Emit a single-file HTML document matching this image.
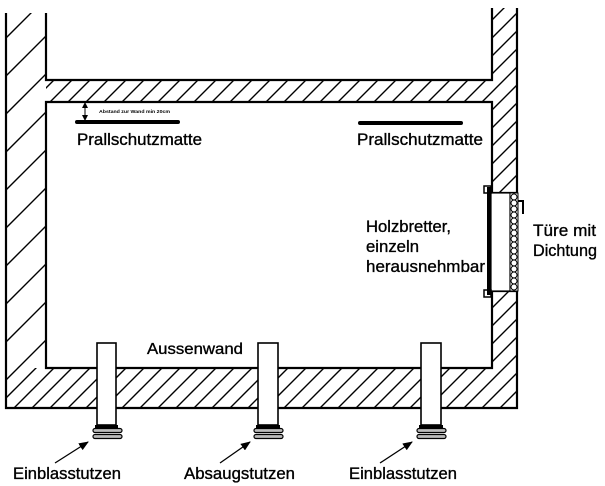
<!DOCTYPE html>
<html>
<head>
<meta charset="utf-8">
<style>
html,body{margin:0;padding:0;background:#fff;}
svg{display:block;}
text{font-family:"Liberation Sans",Arial,sans-serif;fill:#000;}
.lb{stroke:#000;stroke-width:0.35;}
</style>
</head>
<body>
<svg width="605" height="486" viewBox="0 0 605 486" xmlns="http://www.w3.org/2000/svg">
<defs>
  <pattern id="hL" patternUnits="userSpaceOnUse" width="38" height="38" x="6" y="0">
    <path d="M0,38 L38,0 M-2,2 L2,-2 M36,40 L40,36" stroke="#000" stroke-width="1.4"/>
  </pattern>
  <pattern id="hS" patternUnits="userSpaceOnUse" width="18" height="18" x="8" y="0">
    <path d="M0,18 L18,0 M-2,2 L2,-2 M16,20 L20,16" stroke="#000" stroke-width="1.4"/>
  </pattern>
  <marker id="ah" markerWidth="10" markerHeight="8" refX="9" refY="4" orient="auto" markerUnits="userSpaceOnUse">
    <path d="M0,0 L10,4 L0,8 z" fill="#000"/>
  </marker>
</defs>

<!-- hatched walls -->
<rect x="6" y="13" width="40" height="355" fill="url(#hL)"/>
<rect x="46" y="80" width="446" height="22" fill="url(#hS)"/>
<rect x="492" y="8" width="25" height="185" fill="url(#hS)"/>
<rect x="492" y="291" width="25" height="77" fill="url(#hS)"/>
<rect x="6" y="368" width="511" height="40" fill="url(#hS)"/>

<!-- wall outlines -->
<g fill="none" stroke="#000" stroke-width="2.2">
  <path d="M6,13 V408 H517 V291"/>
  <path d="M517,193 V8"/>
  <path d="M46,13 V80 H492 V8"/>
  <path d="M492,193 V102 H46 V368 H492 V291"/>
  <path d="M491,193 H517 M491,291 H517"/>
</g>

<!-- door -->
<rect x="491" y="193" width="19" height="98" fill="#fff" stroke="#000" stroke-width="1.2"/>
<rect x="487" y="187" width="4" height="108" fill="#000"/>
<rect x="484" y="186" width="7" height="7" fill="none" stroke="#000" stroke-width="1.5"/>
<rect x="484" y="290" width="7" height="7" fill="none" stroke="#000" stroke-width="1.5"/>
<rect x="510" y="193" width="8" height="98" fill="#fff" stroke="#000" stroke-width="1"/>
<g fill="none" stroke="#000" stroke-width="1">
  <circle cx="514" cy="197" r="3"/><circle cx="514" cy="203" r="3"/><circle cx="514" cy="209" r="3"/>
  <circle cx="514" cy="215" r="3"/><circle cx="514" cy="221" r="3"/><circle cx="514" cy="227" r="3"/>
  <circle cx="514" cy="233" r="3"/><circle cx="514" cy="239" r="3"/><circle cx="514" cy="245" r="3"/>
  <circle cx="514" cy="251" r="3"/><circle cx="514" cy="257" r="3"/><circle cx="514" cy="263" r="3"/>
  <circle cx="514" cy="269" r="3"/><circle cx="514" cy="275" r="3"/><circle cx="514" cy="281" r="3"/>
  <circle cx="514" cy="287" r="3"/>
</g>
<path d="M518,201 H523 V214" fill="none" stroke="#000" stroke-width="2"/>

<!-- mats -->
<line x1="77" y1="122" x2="178" y2="122" stroke="#000" stroke-width="4" stroke-linecap="round"/>
<line x1="360" y1="123" x2="461" y2="123" stroke="#000" stroke-width="4" stroke-linecap="round"/>

<!-- distance annotation -->
<line x1="85" y1="106" x2="85" y2="117" stroke="#000" stroke-width="1"/>
<path d="M85,102 L88,108 L82,108 z M85,121 L88,115 L82,115 z" fill="#000"/>
<text x="99" y="113" font-size="4.6" font-weight="bold" textLength="71" lengthAdjust="spacingAndGlyphs">Abstand zur Wand min 20cm</text>

<!-- pipes -->
<g stroke="#000" stroke-width="1.6">
  <rect x="97" y="343" width="19" height="82" fill="#fff"/>
  <rect x="258" y="343" width="20" height="82" fill="#fff"/>
  <rect x="421" y="343" width="20" height="82" fill="#fff"/>
</g>
<g>
  <rect x="95" y="425" width="23" height="3" fill="#000"/>
  <rect x="93" y="428.5" width="29" height="4" rx="2" fill="#bbb" stroke="#000" stroke-width="1.2"/>
  <rect x="93" y="434.5" width="29" height="4" rx="2" fill="#bbb" stroke="#000" stroke-width="1.2"/>
  <rect x="256" y="425" width="24" height="3" fill="#000"/>
  <rect x="254" y="428.5" width="29" height="4" rx="2" fill="#bbb" stroke="#000" stroke-width="1.2"/>
  <rect x="254" y="434.5" width="29" height="4" rx="2" fill="#bbb" stroke="#000" stroke-width="1.2"/>
  <rect x="419" y="425" width="24" height="3" fill="#000"/>
  <rect x="417" y="428.5" width="29" height="4" rx="2" fill="#bbb" stroke="#000" stroke-width="1.2"/>
  <rect x="417" y="434.5" width="29" height="4" rx="2" fill="#bbb" stroke="#000" stroke-width="1.2"/>
</g>

<!-- arrows -->
<g stroke="#000" stroke-width="1.3" marker-end="url(#ah)">
  <line x1="55" y1="463" x2="88" y2="442"/>
  <line x1="220" y1="463" x2="250" y2="442"/>
  <line x1="380" y1="463" x2="412" y2="442"/>
</g>

<!-- labels -->
<text class="lb" x="77" y="145" font-size="17" textLength="125" lengthAdjust="spacingAndGlyphs">Prallschutzmatte</text>
<text class="lb" x="357" y="145" font-size="17" textLength="126" lengthAdjust="spacingAndGlyphs">Prallschutzmatte</text>
<text class="lb" x="366" y="232" font-size="17" textLength="85" lengthAdjust="spacingAndGlyphs">Holzbretter,</text>
<text class="lb" x="366" y="252" font-size="17" textLength="53" lengthAdjust="spacingAndGlyphs">einzeln</text>
<text class="lb" x="366" y="272" font-size="17" textLength="119" lengthAdjust="spacingAndGlyphs">herausnehmbar</text>
<text class="lb" x="533" y="236" font-size="17" textLength="63" lengthAdjust="spacingAndGlyphs">Türe mit</text>
<text class="lb" x="533" y="256" font-size="17" textLength="64" lengthAdjust="spacingAndGlyphs">Dichtung</text>
<text class="lb" x="147" y="354" font-size="15.5" textLength="96" lengthAdjust="spacingAndGlyphs">Aussenwand</text>
<text class="lb" x="13" y="479" font-size="16.6" textLength="108" lengthAdjust="spacingAndGlyphs">Einblasstutzen</text>
<text class="lb" x="184" y="479" font-size="16.6" textLength="111" lengthAdjust="spacingAndGlyphs">Absaugstutzen</text>
<text class="lb" x="349" y="479" font-size="16.6" textLength="108" lengthAdjust="spacingAndGlyphs">Einblasstutzen</text>
</svg>
</body>
</html>
